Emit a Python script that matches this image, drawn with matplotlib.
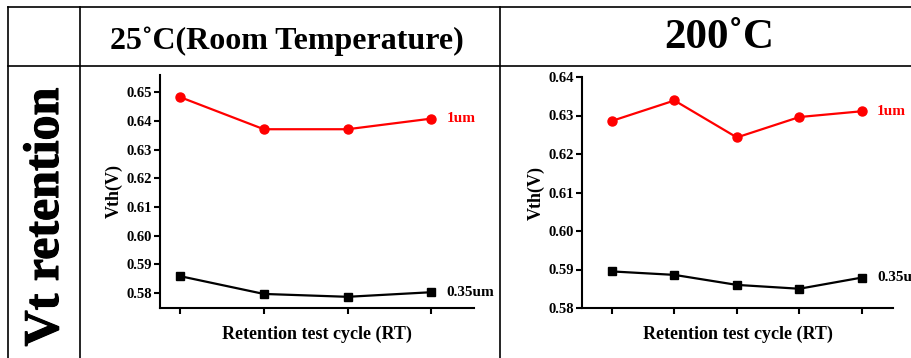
import numpy as np
import matplotlib
matplotlib.use("Agg")
import matplotlib.pyplot as plt
import matplotlib.patheffects as pe
from matplotlib.lines import Line2D

# datos
ciclos_rt = [1, 2, 3, 4]
rt_1um = [0.6483, 0.6371, 0.6371, 0.6408]
rt_035um = [0.5859, 0.5797, 0.5787, 0.5803]

ciclos_200 = [1, 2, 3, 4, 5]
t200_1um = [0.6286, 0.6339, 0.6243, 0.6296, 0.6311]
t200_035um = [0.5895, 0.5886, 0.5860, 0.5850, 0.5879]

titulos = ['25˚C(Room Temperature)', '200˚C']
fila = 'Vt retention'
etiquetas = ['1um', '0.35um']

plt.rcParams['font.family'] = ['Liberation Serif', 'DejaVu Serif']
plt.rcParams['font.weight'] = 'bold'

W, H = 912, 358
fig = plt.figure(figsize=(W / 100, H / 100), dpi=100)

def fx(px):
    return px / W

def fy(py):
    return 1 - py / H

# lineas de la tabla
for (x0, y0, x1, y1) in [(8, 7, 912, 7), (8, 66, 912, 66),
                         (8, 7, 8, 358), (80, 7, 80, 358), (500, 7, 500, 358)]:
    fig.add_artist(Line2D([fx(x0), fx(x1)], [fy(y0), fy(y1)], color='black', lw=1.2))

fig.text(fx(287), fy(41), titulos[0], ha='center', va='center', fontsize=23, fontweight='bold')
fig.text(fx(719), fy(38), titulos[1], ha='center', va='center', fontsize=31, fontweight='bold')
fig.text(fx(46), fy(217), fila, ha='center', va='center', rotation=90, fontsize=36, fontweight='bold',
         path_effects=[pe.withStroke(linewidth=0.8, foreground='black')])


def dibujar(ax, x, y1, y2, ylim, xlim, ticks):
    ax.plot(x, y1, color='red', lw=1.6, marker='o', ms=6.5)
    ax.plot(x, y2, color='black', lw=1.6, marker='s', ms=5.5)
    ax.set_xlim(*xlim)
    ax.set_ylim(*ylim)
    ax.set_xticks(x)
    ax.set_xticklabels([])
    ax.set_yticks(ticks)
    ax.set_yticklabels(['%.2f' % t for t in ticks])
    for s in ['top', 'right']:
        ax.spines[s].set_visible(False)
    for s in ['left', 'bottom']:
        ax.spines[s].set_linewidth(1.5)
    ax.tick_params(direction='out', width=1.5, length=4, labelsize=10.5, pad=2)
    ax.set_ylabel('Vth(V)', fontsize=13, fontweight='bold', labelpad=2)
    ax.set_xlabel('Retention test cycle (RT)', fontsize=13, fontweight='bold', labelpad=7)
    ax.annotate(etiquetas[0], (x[-1], y1[-1]), xytext=(11, 0), textcoords='offset points',
                color='red', fontsize=11, fontweight='bold', va='center', annotation_clip=False)
    ax.annotate(etiquetas[1], (x[-1], y2[-1]), xytext=(11, 0), textcoords='offset points',
                color='black', fontsize=11, fontweight='bold', va='center', annotation_clip=False)


ax1 = fig.add_axes([fx(160), fy(308), fx(314), 233 / H])
dibujar(ax1, ciclos_rt, rt_1um, rt_035um, (0.5748, 0.656), (0.76, 4.51),
        np.arange(0.58, 0.6501, 0.01))

ax2 = fig.add_axes([fx(582), fy(308), fx(311), 231 / H])
dibujar(ax2, ciclos_200, t200_1um, t200_035um, (0.58, 0.64), (0.52, 5.5),
        np.arange(0.58, 0.6401, 0.01))

fig.savefig('out.png', dpi=100)
